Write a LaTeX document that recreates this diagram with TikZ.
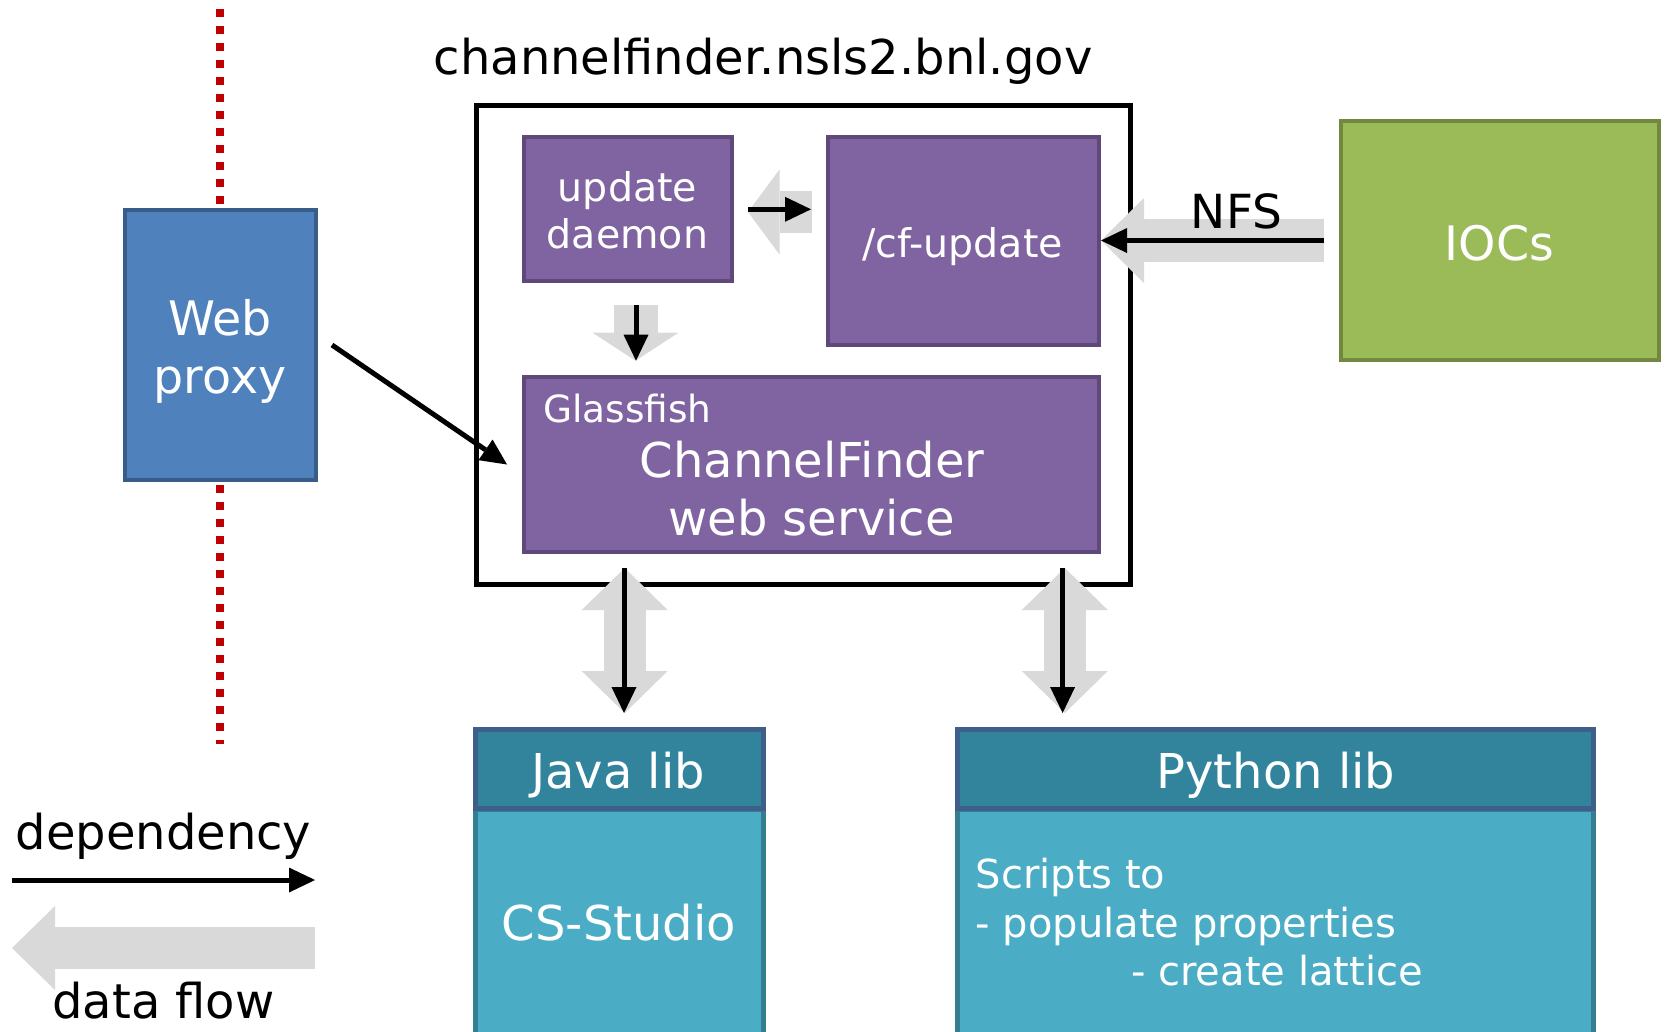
\documentclass[tikz,border=0pt]{standalone}
\usepackage{fontspec}
\setmainfont{DejaVu Sans}
\usetikzlibrary{arrows.meta}
\definecolor{webfill}{HTML}{4F81BD}
\definecolor{webdraw}{HTML}{385D8A}
\definecolor{purplefill}{HTML}{8064A2}
\definecolor{purpledraw}{HTML}{5F497A}
\definecolor{greenfill}{HTML}{9BBB59}
\definecolor{greendraw}{HTML}{71893F}
\definecolor{headfill}{HTML}{31849B}
\definecolor{headdraw}{HTML}{3E5F8A}
\definecolor{bodyfill}{HTML}{4BACC6}
\definecolor{bodydraw}{HTML}{357D91}
\definecolor{flowgray}{HTML}{D9D9D9}
\definecolor{dotred}{HTML}{C00000}
\newcommand\myfs[1]{\fontsize{#1}{#1}\selectfont}
\tikzset{
  box/.style={draw, line width=4pt, inner sep=0pt},
  webbox/.style={box, fill=webfill, draw=webdraw},
  pbox/.style={box, fill=purplefill, draw=purpledraw},
  gbox/.style={box, fill=greenfill, draw=greendraw},
  libhead/.style={draw=headdraw, fill=headfill, line width=5pt, inner sep=0pt},
  libbody/.style={draw=bodydraw, fill=bodyfill, line width=5pt, inner sep=0pt},
  outerbox/.style={draw=black, line width=5pt, inner sep=0pt},
  wtxt/.style={text=white, inner sep=0pt, anchor=base},
  wtxtl/.style={text=white, inner sep=0pt, anchor=base west},
  btxt/.style={text=black, inner sep=0pt, anchor=base},
  redline/.style={draw=dotred, line width=8pt, dash pattern=on 8pt off 9pt},
  dep/.style={draw=black, line width=5pt, -{Triangle[length=26pt,width=25pt,line width=0pt]}},
  flow/.style={draw=flowgray, line width=43pt, -{Triangle[length=43pt,width=85pt,line width=0pt]}},
  flowboth/.style={draw=flowgray, line width=42pt, {Triangle[length=42pt,width=86pt,line width=0pt]}-{Triangle[length=42pt,width=86pt,line width=0pt]}}
}
\begin{document}
\begin{tikzpicture}[x=1pt,y=-1pt]
\useasboundingbox (0,0) rectangle (1667,1031);
\clip (0,0) rectangle (1667,1031);

% dotted red boundary
\coordinate (rtop) at (220,9);
\coordinate (rbot) at (220,744);
\draw[redline] (rtop) -- (rbot);

% boxes
\node[webbox, minimum width=191pt, minimum height=270.5pt] (web) at (220,345) {};
\node[outerbox, minimum width=654pt, minimum height=479pt] (server) at (803.5,345) {};
\node[pbox, minimum width=207.5pt, minimum height=144pt] (daemon) at (627.75,209) {};
\node[pbox, minimum width=271pt, minimum height=208pt] (cfu) at (963.5,241) {};
\node[pbox, minimum width=575pt, minimum height=175pt] (cf) at (811.5,464.5) {};
\node[gbox, minimum width=318.5pt, minimum height=239pt] (iocs) at (1499.75,240.5) {};
\node[libbody, minimum width=287.5pt, minimum height=232pt] (javab) at (619.5,925) {};
\node[libhead, minimum width=287.5pt, minimum height=79.5pt] (javah) at (619.5,768.85) {};
\node[libbody, minimum width=636pt, minimum height=232pt] (pyb) at (1275.5,925) {};
\node[libhead, minimum width=636pt, minimum height=79.5pt] (pyh) at (1275.5,768.85) {};

% connector end points
\coordinate (hsA) at (812,212);
\coordinate (hsB) at (748,212);
\coordinate (hdA) at (748,209.3);
\coordinate (hdB) at (811,209.3);
\coordinate (vsA) at (635.5,305);
\coordinate (vsB) at (635.5,360.7);
\coordinate (vdA) at (636,305);
\coordinate (vdB) at (636,360.7);
\coordinate (jgA) at (624.7,568);
\coordinate (jgB) at (624.7,713);
\coordinate (jdA) at (624,568);
\coordinate (jdB) at (624,713);
\coordinate (pgA) at (1064.8,568);
\coordinate (pgB) at (1064.8,713);
\coordinate (pdA) at (1062.6,568);
\coordinate (pdB) at (1062.6,713);
\coordinate (depA) at (12,880);
\coordinate (depB) at (315,880);
\coordinate (dfA) at (315,948);
\coordinate (dfB) at (12,948);

% data flow (gray)
\draw[flow, line width=42pt, -{Triangle[length=31.5pt,width=85pt,line width=0pt]}] (hsA) -- (hsB);
\draw[flow, line width=44pt, -{Triangle[length=28pt,width=86pt,line width=0pt]}] (vsA) -- (vsB);
\draw[flow] ([xshift=-15pt]iocs.west) -- (cfu.east |- iocs.west);
\draw[flowboth] (jgA) -- (jgB);
\draw[flowboth] (pgA) -- (pgB);
\draw[flow, line width=42pt, -{Triangle[length=43pt,width=84pt,line width=0pt]}] (dfA) -- (dfB);

% dependencies (black)
\draw[dep] ([xshift=14.5pt]web.east) -- ([xshift=-15pt]cf.west);
\draw[dep] (hdA) -- (hdB);
\draw[dep] (vdA) -- (vdB);
\draw[dep] ([xshift=-15pt]iocs.west) -- (cfu.east |- iocs.west);
\draw[dep] (jdA) -- (jdB);
\draw[dep] (pdA) -- (pdB);
\draw[dep] (depA) -- (depB);

% texts
\node[btxt, font=\myfs{48}] (title) at (763,74) {channelfinder.nsls2.bnl.gov};
\node[wtxt, font=\myfs{47.5}] (webt1) at (220,335) {Web};
\node[wtxt, font=\myfs{47.5}] (webt2) at (220,393.5) {proxy};
\node[wtxt, font=\myfs{39.5}] (dt1) at (627.5,201) {update};
\node[wtxt, font=\myfs{39.5}] (dt2) at (627.5,248) {daemon};
\node[wtxt, font=\myfs{39.5}] (cfut) at (962.75,257) {/cf-update};
\node[wtxtl, font=\myfs{37.5}] (gft) at (543,422) {Glassfish};
\node[wtxt, font=\myfs{48}] (cft1) at (812,477) {ChannelFinder};
\node[wtxt, font=\myfs{48}] (cft2) at (811.5,535) {web service};
\node[btxt, font=\myfs{47}] (nfs) at (1236.5,228) {NFS};
\node[wtxt, font=\myfs{47.5}] (iocst) at (1499.6,260) {IOCs};
\node[wtxt, font=\myfs{48}] (javat) at (618,788) {Java lib};
\node[wtxt, font=\myfs{48}] (csst) at (619,940) {CS-Studio};
\node[wtxt, font=\myfs{48}] (pyt) at (1276,788) {Python lib};
\node[wtxtl, font=\myfs{40}] (sc1) at (975.5,888) {Scripts to};
\node[wtxtl, font=\myfs{40}] (sc2) at (975.5,937) {- populate properties};
\node[wtxtl, font=\myfs{40}] (sc3) at (1131,985) {- create lattice};
\node[btxt, font=\myfs{48}] (legdep) at (163.5,849) {dependency};
\node[btxt, font=\myfs{48}] (legdf) at (163.5,1018) {data flow};
\end{tikzpicture}
\end{document}
